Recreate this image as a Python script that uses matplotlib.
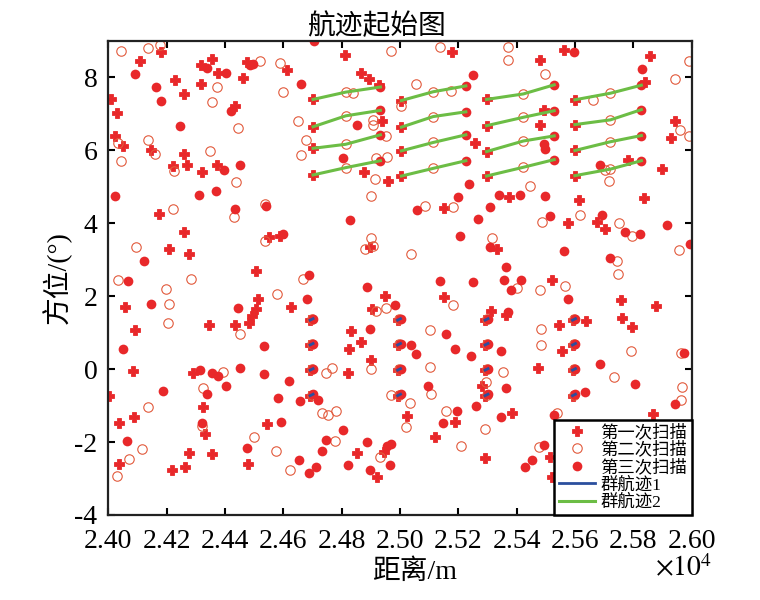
import matplotlib
matplotlib.use('Agg')
import matplotlib.pyplot as plt
import numpy as np

plt.rcParams['font.family'] = ['Liberation Serif', 'Noto Sans CJK SC']
plt.rcParams['mathtext.fontset'] = 'stix'
plt.rcParams['axes.unicode_minus'] = False

# clutter, scan 1 (+)
c1_x = [24182, 24108, 24354, 24317, 24377, 24477, 24462, 24611, 24813, 24866, 24894, 24928,
        24228, 24317, 24260, 24009, 24028, 24434, 24022, 24051, 24146, 24259, 24271, 24222,
        24374, 24322, 24937, 24877, 24959, 24174, 24259, 24209, 24276, 24550, 24588, 24897,
        24508,
        25179, 25563, 25482, 25856, 25842, 25494, 25481, 25259, 25944, 25928, 25782, 25900,
        25374, 25150, 25613, 25837, 25576, 25677, 25704, 25334, 25523,
        24057, 24091, 24086, 24002, 24038, 24088, 24037, 24217, 24263, 24278, 24354, 24291,
        24326, 24331, 24345, 24434, 24482, 24491, 24506, 24512, 24625, 24480, 24543, 24832,
        24826, 24866, 24901, 24821, 24949, 24903, 24851, 24946, 24920,
        25150, 25313, 25365, 25757, 25879, 25763, 25797, 25637, 25544, 25557, 25473, 25283,
        25384, 25025, 25188, 25119, 25293, 25516, 25523, 25868]
c1_y = [8.68, 8.45, 8.49, 8.34, 8.11, 8.41, 7.97, 8.20, 8.60, 8.11, 7.95, 7.79,
        7.93, 7.81, 7.54, 7.40, 7.02, 7.20, 6.40, 6.10, 6.01, 5.89, 5.60, 5.56,
        5.60, 5.40, 6.81, 5.40, 5.16, 4.25, 3.76, 3.30, 3.15, 3.62, 3.66, 3.35,
        2.68,
        8.70, 8.75, 8.48, 8.57, 7.88, 7.11, 6.70, 6.19, 6.81, 6.33, 5.74, 5.48,
        4.71, 4.41, 4.64, 4.69, 4.00, 4.03, 3.84, 3.29, 2.45,
        1.70, 1.06, -0.05, -0.73, -1.48, -1.32, -2.60, -2.77, -2.68, -2.30, -2.32, -0.12,
        -1.03, -1.78, 1.20, 1.20, 1.25, 1.45, 1.64, 1.91, 1.70, -2.60, -1.50, 1.05,
        0.56, 0.75, 0.26, -0.10, 1.99, 1.65, -2.30, -2.28, -2.95,
        1.97, 1.59, 1.47, 1.88, 1.72, 1.40, 1.14, 1.31, 1.22, 0.49, 0.02, -0.46,
        -1.21, -1.30, -1.46, -1.86, -2.45, -2.41, -2.95, -1.24]

# clutter, scan 2 (o)
c2_x = [24042, 24137, 24177, 24519, 24588, 24971, 24374, 24599, 24356, 24839, 24445, 24649,
        24906, 24906, 24951, 24677, 24660, 24137, 24034, 24159, 24042, 24348, 24225, 24439,
        24954, 24917, 24914, 24902, 24222, 24431, 24537, 24537, 24094, 24900, 24879, 24906,
        25136, 25371, 25371, 25499, 25056, 25176, 25005, 25662, 25990, 25942, 25961, 25991,
        25704, 25716, 25447, 25087, 25182, 25619, 25488, 25751, 25797, 25316, 25037, 25957,
        25744, 25748,
        24034, 24285, 24196, 24209, 24206, 24577, 24451, 24669, 24918, 24952, 24392, 24326,
        24320, 24137, 24114, 24072, 24028, 24499, 24574, 24623, 24745, 24766, 24734, 24754,
        24779, 24777, 24901, 24931, 24971,
        25401, 25479, 25567, 25182, 25102, 25485, 25485, 25791, 25965, 25102, 25353, 25734,
        25296, 25108, 25033, 25967, 25963, 25157, 25540, 25022, 25293, 25208, 25477, 25553]
c2_y = [8.73, 8.81, 8.89, 8.45, 8.39, 8.73, 7.72, 7.58, 7.32, 7.56, 6.62, 6.79,
        6.83, 6.68, 6.40, 6.28, 5.87, 6.29, 6.19, 5.90, 5.71, 5.97, 5.44, 5.14,
        5.81, 5.78, 5.21, 4.73, 4.39, 4.18, 4.53, 3.50, 3.34, 3.59, 3.29, 3.36,
        8.82, 8.82, 8.48, 8.09, 7.82, 7.63, 7.20, 7.38, 8.43, 7.96, 6.54, 6.40,
        5.46, 5.16, 5.03, 4.48, 4.44, 4.23, 4.03, 4.00, 3.64, 3.59, 3.16, 3.27,
        2.95, 2.61,
        2.45, 2.47, 2.20, 1.79, 1.26, 2.06, 0.95, 2.47, 1.59, 1.68, -0.07, -0.53,
        -1.57, -1.05, -2.18, -2.46, -2.92, -1.85, -2.25, -2.78, -0.12, 0.02, -1.21, -1.25,
        -1.14, -1.98, 0.00, -2.41, -0.71,
        2.22, 2.18, 2.27, 1.75, 1.06, 1.11, 0.67, 0.49, 0.45, 0.06, -0.09, -0.23,
        -0.36, -0.68, -0.94, -0.50, -0.85, -1.16, -1.21, -1.59, -1.64, -2.12, -2.14, -2.75]

# clutter, scan 3 (filled dot)
c3_x = [24091, 24165, 24180, 24337, 24405, 24485, 24497, 24660, 24706, 24419, 24245, 24853,
        24803, 24453, 24396, 24022, 24311, 24369, 24540, 24434, 24828, 24599, 24122, 24689,
        25596, 25251, 25830, 25494, 25499, 25687, 25236, 25199, 25059, 25340, 25413, 25499,
        25310, 25513, 25268, 25693, 25773, 25822, 25917, 25205, 25310, 25561, 25721, 25994,
        25365,
        24066, 24145, 24049, 24186, 24314, 24357, 24377, 24402, 24337, 24320, 24065, 24446,
        24451, 24535, 24534, 24621, 24581, 24657, 24592, 24477, 24654, 24688, 24712, 24682,
        24718, 24745, 24734, 24806, 24886, 24983, 24897, 24886, 24823, 24897, 24966, 24954,
        24969,
        25136, 25251, 25357, 25416, 25382, 25576, 25371, 25159, 25037, 25054, 25190, 25243,
        25345, 25685, 25974, 25807, 25096, 25363, 25634, 25260, 25197, 25345, 25148, 25528,
        25945, 25494, 25454, 25428]
c3_y = [8.09, 7.72, 7.36, 8.25, 8.11, 8.32, 8.36, 7.81, 8.98, 7.06, 6.67, 6.68,
        5.78, 5.60, 5.46, 4.75, 4.76, 4.87, 4.46, 4.39, 4.08, 3.70, 2.95, 2.59,
        8.70, 8.05, 8.23, 6.17, 6.03, 5.60, 5.07, 4.71, 4.35, 4.78, 4.78, 4.75,
        4.44, 4.19, 4.12, 4.23, 3.76, 3.71, 3.94, 3.64, 3.35, 3.23, 3.03, 3.43,
        2.79,
        2.41, 1.79, 0.56, -0.60, -0.03, -0.12, -0.18, -0.46, -0.68, -1.48, -1.96, 1.67,
        0.02, 0.63, -0.14, -0.32, -0.80, -0.87, -1.44, -2.16, -2.48, -2.84, -2.68, 1.93,
        -0.85, -1.94, -2.25, -1.66, 2.25, 1.75, 1.11, -2.00, -2.62, -2.78, -2.62, -2.10,
        -2.05,
        2.41, 2.38, 2.45, 2.43, 2.18, 1.91, 1.55, 0.97, 0.67, 0.40, 0.55, 0.35,
        0.49, 0.14, 0.43, -0.41, -0.46, -0.51, -0.62, -1.01, -1.16, -1.32, -1.48, -1.25,
        -0.96, -2.07, -2.50, -2.69]

# group 1 targets: column ranges and row bearings per scan
g1_x = [[24692, 24992, 25292, 25592],
        [24697, 24997, 25297, 25597],
        [24702, 25002, 25302, 25602]]
g1_y = [[1.34, 0.66, -0.03, -0.73],
        [1.36, 0.68, -0.01, -0.71],
        [1.38, 0.70, 0.01, -0.69]]

# group 2 targets: column ranges per scan, bearings [column][row] per scan
g2_x = [[24702, 25005, 25297, 25600],
        [24814, 25114, 25423, 25722],
        [24933, 25226, 25529, 25828]]
g2_y1 = [[7.39, 6.64, 6.05, 5.32], [7.36, 6.63, 5.98, 5.29],
         [7.39, 6.67, 5.96, 5.29], [7.38, 6.70, 5.99, 5.30]]
g2_y2 = [[7.59, 6.94, 6.16, 5.52], [7.60, 6.92, 6.21, 5.50],
         [7.54, 6.90, 6.25, 5.53], [7.56, 6.83, 6.23, 5.48]]
g2_y3 = [[7.73, 7.09, 6.42, 5.71], [7.76, 7.05, 6.42, 5.71],
         [7.79, 7.08, 6.39, 5.74], [7.78, 7.11, 6.40, 5.71]]
g2_y = [g2_y1, g2_y2, g2_y3]

# full point sets per scan
def targets(k):
    xs, ys = [], []
    for c in range(4):
        for r in range(4):
            xs.append(g1_x[k][c]); ys.append(g1_y[k][r])
            xs.append(g2_x[k][c]); ys.append(g2_y[k][c][r])
    return xs, ys

red = '#e8282a'
ring = '#e25a3c'
fig = plt.figure(figsize=(7.6, 6), dpi=100)
ax = fig.add_axes([0.1426, 0.1417, 0.7673, 0.7905])

t1 = targets(0); t2 = targets(1); t3 = targets(2)
ax.plot(c1_x + t1[0], c1_y + t1[1], 'P', color=red, ms=6.5, mew=0.6, ls='none', label='第一次扫描')
ax.plot(c2_x + t2[0], c2_y + t2[1], 'o', mfc='none', mec=ring, ms=6.8, mew=0.8, ls='none', label='第二次扫描')
ax.plot(c3_x + t3[0], c3_y + t3[1], 'o', color=red, ms=7, mew=0, ls='none', label='第三次扫描')

for c in range(4):
    for r in range(4):
        xs = [g1_x[k][c] for k in range(3)]
        ys = [g1_y[k][r] for k in range(3)]
        ax.plot(xs, ys, color='#2b4f9e', lw=2, label='群航迹1' if c == 0 and r == 0 else None)
for c in range(4):
    for r in range(4):
        xs = [g2_x[k][c] for k in range(3)]
        ys = [g2_y[k][c][r] for k in range(3)]
        ax.plot(xs, ys, color='#6cbd45', lw=2.2, label='群航迹2' if c == 0 and r == 0 else None)

ax.set_xlim(24000, 26000)
ax.set_ylim(-4, 9)
ax.set_xticks(np.arange(24000, 26001, 200))
ax.set_xticklabels([f'{v / 1e4:.2f}' for v in np.arange(24000, 26001, 200)])
ax.set_yticks(np.arange(-4, 9, 2))
ax.tick_params(direction='in', top=True, right=True, length=5, width=1.5, labelsize=20)
ax.tick_params(axis='x', pad=10)
ax.tick_params(axis='y', pad=8)
for s in ax.spines.values():
    s.set_linewidth(1.6)
    s.set_color('#222222')

ax.set_title('航迹起始图', fontsize=20, pad=5, x=0.46)
ax.set_xlabel('距离/m', fontsize=20, labelpad=4, x=0.525)
ax.set_ylabel('方位/(°)', fontsize=20, labelpad=2)
fig.text(0.937, 0.04, r'$\times10^{4}$', fontsize=20, ha='right', va='baseline')

leg = ax.legend(loc='lower right', fontsize=12.5, borderaxespad=0, fancybox=False,
                edgecolor='black', framealpha=1, labelspacing=0.05, handlelength=2.1,
                handletextpad=0.3, borderpad=0.25)
leg.get_frame().set_linewidth(1.8)

fig.savefig('out.png', dpi=100)
